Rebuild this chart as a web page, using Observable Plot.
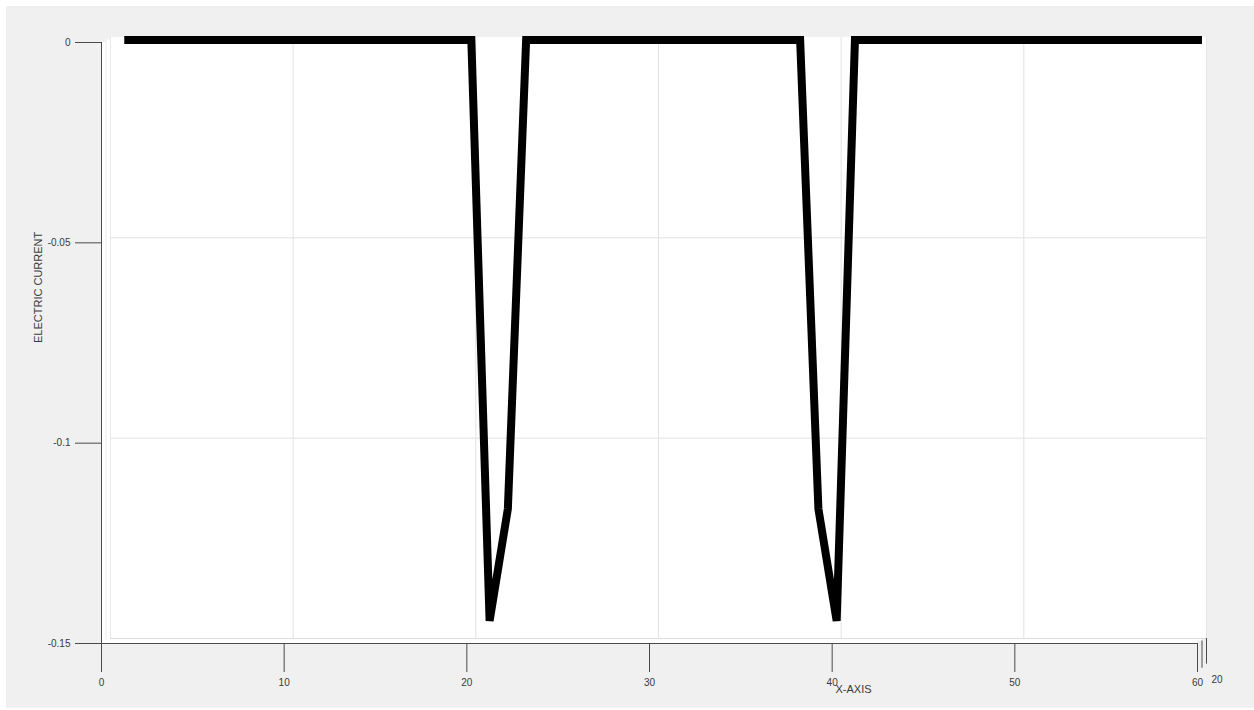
<!DOCTYPE html>
<html>
<head>
<meta charset="utf-8">
<script src="https://cdn.jsdelivr.net/npm/d3@7"></script>
<script src="https://cdn.jsdelivr.net/npm/@observablehq/plot@0.6"></script>
<style>
  html, body { margin: 0; padding: 0; background: #ffffff; overflow: hidden; }
  #chart { position: absolute; left: 6px; top: 6px; }
</style>
</head>
<body>
<div id="chart"></div>
<script>
// ---- data ----
const sampleX = [1,2,3,4,5,6,7,8,9,10,11,12,13,14,15,16,17,18,19,20,
                 21,22,23,24,25,26,27,28,29,30,31,32,33,34,35,36,37,38,39,40,
                 41,42,43,44,45,46,47,48,49,50,51,52,53,54,55,56,57,58,59,60];
const current = [0,0,0,0,0,0,0,0,0,0,0,0,0,0,0,0,0,0,0,0,
                 -0.145,-0.117,0,0,0,0,0,0,0,0,0,0,0,0,0,0,0,0,-0.117,-0.145,
                 0,0,0,0,0,0,0,0,0,0,0,0,0,0,0,0,0,0,0,0];
const xTicks = [0, 10, 20, 30, 40, 50, 60];
const yTicks = [0, -0.05, -0.1, -0.15];
const yTickLabels = ["0", "-0.05", "-0.1", "-0.15"];
const gridX = [10, 20, 30, 40, 50];
const gridY = [-0.05, -0.1];
const zTicks = [0, 10, 20];
const zTickLabels = ["", "", "20"];
const xLabel = "X-AXIS";
const yLabel = "ELECTRIC CURRENT";

const data = sampleX.map((x, i) => ({x, y: current[i]}));
const xMin = xTicks[0], xMax = xTicks[xTicks.length - 1];
const yMin = yTicks[yTicks.length - 1], yMax = yTicks[0];
const box = [{x1: xMin, x2: xMax, y1: yMin, y2: yMax}];

// depth offsets (pseudo-3D view): back plane and data plane
const back = {dx: 9, dy: -5};
const mid = {dx: 4.5, dy: -2.5};
const gridColor = "#e2e2e2";
const axisColor = "#4a4a4a";
const textColor = "#3a3a3a";

const zMarks = zTicks.map((z, i) => [
  Plot.ruleX([xMax], {y1: yMin, y2: yMin - 0.0072 + z * 0.00004, dx: z * 0.45, dy: -z * 0.25, stroke: axisColor, strokeWidth: 1}),
  Plot.text([zTickLabels[i]], {x: xMax, y: yMin, dx: z * 0.45 + 5, dy: 36, textAnchor: "start", fill: textColor, fontSize: 10})
]).flat();

const chart = Plot.plot({
  width: 1248,
  height: 702,
  marginLeft: 95,
  marginRight: 57,
  marginTop: 36,
  marginBottom: 65,
  x: {domain: [xMin, xMax]},
  y: {domain: [yMin, yMax]},
  style: {background: "#f0f0f0", fontFamily: "'Liberation Sans', Arial, Helvetica, sans-serif", fontSize: "10px", overflow: "visible"},
  marks: [
    // white box (front, middle, back planes)
    Plot.rect(box, {x1: "x1", x2: "x2", y1: "y1", y2: "y2", fill: "white"}),
    Plot.rect(box, {x1: "x1", x2: "x2", y1: "y1", y2: "y2", fill: "white", ...mid}),
    Plot.rect(box, {x1: "x1", x2: "x2", y1: "y1", y2: "y2", fill: "white", ...back}),
    // back-wall grid
    Plot.ruleX(gridX, {y1: yMin, y2: yMax, stroke: gridColor, strokeWidth: 1, ...back}),
    Plot.ruleY(gridY, {x1: xMin, x2: xMax, stroke: gridColor, strokeWidth: 1, ...back}),
    // back-wall edges
    Plot.ruleX([xMin, xMax], {y1: yMin, y2: yMax, stroke: "#e6e6e6", strokeWidth: 1, ...back}),
    Plot.ruleY([yMin], {x1: xMin, x2: xMax, stroke: "#dcdcdc", strokeWidth: 1, ...back}),
    Plot.ruleX([xMin], {y1: yMin, y2: yMax, stroke: "#ececec", strokeWidth: 1, ...mid}),
    // data line
    Plot.line(data, {x: "x", y: "y", stroke: "black", strokeWidth: 8, strokeLinejoin: "miter", strokeMiterlimit: 4, strokeLinecap: "butt", ...mid}),
    // front axes
    Plot.ruleX([xMin], {y1: yMin, y2: yMax, stroke: axisColor, strokeWidth: 1}),
    Plot.ruleY([yMin], {x1: xMin, x2: xMax, stroke: axisColor, strokeWidth: 1}),
    Plot.axisX({ticks: xTicks, tickSize: 29, tickPadding: 6, label: null, stroke: axisColor, fill: textColor, tickFormat: d => String(d)}),
    Plot.axisY({ticks: yTicks, tickSize: 26, tickPadding: 5, label: null, stroke: axisColor, fill: textColor, tickFormat: d => yTickLabels[yTicks.indexOf(d)]}),
    ...zMarks,
    // axis titles
    Plot.text([xLabel], {frameAnchor: "bottom", dx: 204, dy: 49, fontSize: 11, fill: textColor}),
    Plot.text([yLabel], {frameAnchor: "left", rotate: -90, dx: -63, dy: 0, fontSize: 11, fill: textColor})
  ]
});
document.getElementById("chart").appendChild(chart);
</script>
</body>
</html>
